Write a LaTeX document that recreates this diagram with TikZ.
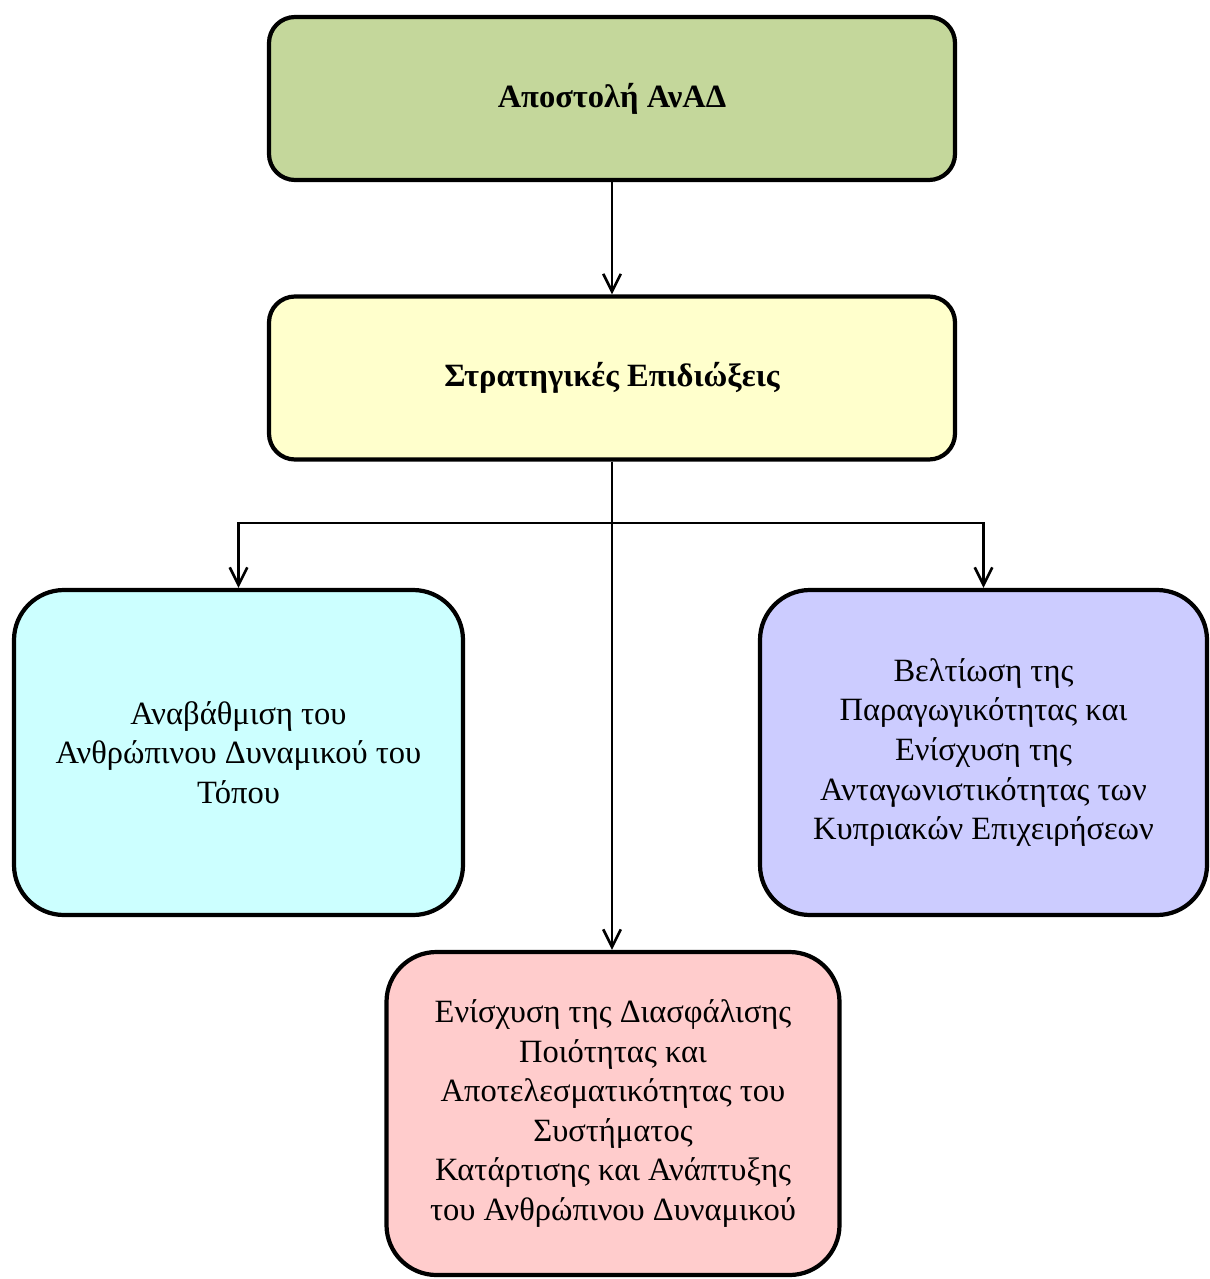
\documentclass[tikz,border=0pt]{standalone}
\usepackage{fontspec}
\setmainfont{Liberation Serif}
\usetikzlibrary{arrows.meta}
\usetikzlibrary{positioning}
\definecolor{missiongreen}{RGB}{196,215,155}
\definecolor{aimyellow}{RGB}{255,255,204}
\definecolor{peoplecyan}{RGB}{204,255,255}
\definecolor{firmviolet}{RGB}{204,204,255}
\definecolor{qualitypink}{RGB}{255,204,204}

\begin{document}
\begin{tikzpicture}[
		box/.style={draw=black,line width=2.4pt,align=center,inner sep=0pt,
			font=\fontsize{18.5}{22.5}\selectfont},
		headbox/.style={box,rounded corners=0.52cm,minimum width=13.72cm,
			minimum height=3.26cm,font=\fontsize{18.5}{22.5}\selectfont\bfseries},
		goalbox/.style={box,rounded corners=1.0cm,minimum height=6.5cm},
		arr/.style={-{Straight Barb[length=10pt,width=10pt]},line width=1.5pt},
		link/.style={line width=1.5pt}
	]
	\useasboundingbox (0,0) rectangle (24.2,-25.58);

	% Mission and strategic aims
	\node[headbox,fill=missiongreen] (mission) at (12.24,-1.97) {Αποστολή ΑνΑΔ};
	\node[headbox,fill=aimyellow] (strategy) at (12.24,-7.56) {Στρατηγικές Επιδιώξεις};

	% The three aims
	\node[goalbox,fill=peoplecyan,minimum width=8.98cm] (upgrade) at (4.77,-15.05)
	{Αναβάθμιση του\\Ανθρώπινου Δυναμικού του\\Τόπου};
	\node[goalbox,fill=firmviolet,minimum width=8.94cm] (improve) at (19.67,-15.05)
	{Βελτίωση της\\Παραγωγικότητας και\\Ενίσχυση της\\Ανταγωνιστικότητας των\\Κυπριακών Επιχειρήσεων};
	\node[goalbox,fill=qualitypink,minimum width=9.06cm,minimum height=6.46cm] (quality) at (12.26,-22.27)
	{Ενίσχυση της Διασφάλισης\\Ποιότητας και\\Αποτελεσματικότητας του\\Συστήματος\\Κατάρτισης και Ανάπτυξης\\του Ανθρώπινου Δυναμικού};

	% Connectors
	\coordinate (split) at (12.24,-10.46);
	\draw[arr] (mission) -- (strategy);
	\draw[link] (strategy.south) -- (split);
	\draw[arr] (split) -| (upgrade.north);
	\draw[arr] (split) -| (improve.north);
	\draw[arr] (strategy.south) -- (strategy.south |- quality.north);
\end{tikzpicture}
\end{document}
